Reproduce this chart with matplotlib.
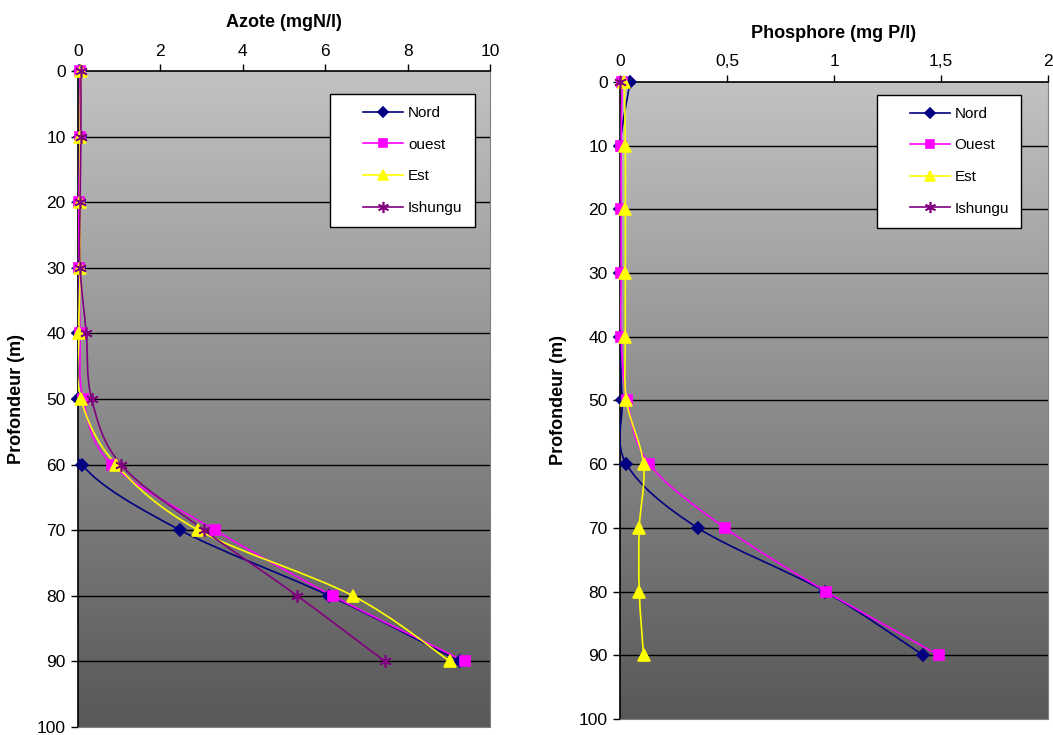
import numpy as np
import matplotlib
matplotlib.use('Agg')
import matplotlib.pyplot as plt
from matplotlib.path import Path
from matplotlib.patches import PathPatch
from matplotlib.lines import Line2D
from matplotlib.legend_handler import HandlerLine2D
from matplotlib.colors import LinearSegmentedColormap

plt.rcParams['font.family'] = ['Liberation Sans', 'DejaVu Sans']

depth = [0, 10, 20, 30, 40, 50, 60, 70, 80, 90]

azote_nord = [0.05, 0.05, 0.03, 0.03, 0.0, 0.0, 0.1, 2.48, 6.1, 9.27]
azote_ouest = [0.05, 0.05, 0.02, 0.03, 0.05, 0.12, 0.82, 3.33, 6.18, 9.39]
azote_est = [0.07, 0.05, 0.05, 0.05, 0.02, 0.07, 0.92, 2.92, 6.67, 9.03]
azote_ishungu = [0.07, 0.07, 0.05, 0.05, 0.2, 0.33, 1.04, 3.06, 5.32, 7.45]

phos_nord = [0.047, 0.0, 0.0, 0.0, 0.0, 0.01, 0.03, 0.363, 0.958, 1.417]
phos_ouest = [0.01, 0.005, 0.005, 0.005, 0.005, 0.034, 0.137, 0.49, 0.963, 1.49]
phos_est = [0.02, 0.025, 0.025, 0.025, 0.025, 0.03, 0.11, 0.09, 0.09, 0.11]
phos_ishungu = [0.0, None, None, None, None, None, None, None, None, None]

series_style = [
    ('Nord', '#000080', 'D', 6),
    ('Ouest', '#FF00FF', 's', 7),
    ('Est', '#FFFF00', '^', 8),
    ('Ishungu', '#800080', (6, 2, 0), 9),
]

bg = LinearSegmentedColormap.from_list('bg', ['#c2c2c2', '#585858'])


def smooth_line(ax, xs, ys, color):
    # excel-like smoothed line: catmull-rom as cubic bezier
    pts = [(x, y) for x, y in zip(xs, ys) if x is not None]
    if len(pts) < 2:
        return
    p = np.array(pts, dtype=float)
    n = len(p)
    verts = [p[0]]
    codes = [Path.MOVETO]
    for i in range(n - 1):
        p0 = p[i - 1] if i > 0 else p[i]
        p1 = p[i]
        p2 = p[i + 1]
        p3 = p[i + 2] if i + 2 < n else p[i + 1]
        c1 = p1 + (p2 - p0) / 6
        c2 = p2 - (p3 - p1) / 6
        verts += [c1, c2, p2]
        codes += [Path.CURVE4] * 3
    patch = PathPatch(Path(verts, codes), fill=False, edgecolor=color,
                      lw=1.2, transform=ax.transData, zorder=3)
    ax.add_patch(patch)


def make_panel(ax, title, xmax, xticks, xticklabels, data, labels, leg_anchor):
    ax.imshow(np.linspace(0, 1, 256).reshape(-1, 1), cmap=bg, aspect='auto',
              extent=(0, xmax, 100, 0), zorder=0)
    ax.set_xlim(0, xmax)
    ax.set_ylim(100, 0)
    for d in range(10, 100, 10):
        ax.axhline(d, color='black', lw=1, zorder=1)
    handles = []
    for vals, lab, (name, col, mk, ms) in zip(data, labels, series_style):
        smooth_line(ax, vals, depth, col)
        xs = [v for v in vals if v is not None]
        ys = [d for v, d in zip(vals, depth) if v is not None]
        ax.plot(xs, ys, linestyle='none', marker=mk, color=col, ms=ms,
                mec=col, mew=1.2, zorder=4, clip_on=False)
        handles.append(Line2D([], [], color=col, marker=mk, ms=ms - 1, mew=1.2, lw=1.2, label=lab))
    ax.xaxis.tick_top()
    ax.set_xticks(xticks)
    ax.set_xticklabels(xticklabels)
    ax.set_yticks(range(0, 101, 10))
    ax.tick_params(labelsize=12.5, length=5, width=1, direction='out', pad=4)
    ax.set_title(title, fontsize=13, fontweight='bold', pad=12)
    ax.set_ylabel('Profondeur (m)', fontsize=13, fontweight='bold', labelpad=8)
    ax.spines['top'].set_linewidth(1.2)
    ax.spines['left'].set_linewidth(1.2)
    ax.spines['right'].set_color('#808080')
    ax.spines['bottom'].set_color('#808080')
    leg = ax.legend(handles=handles, loc='upper left', bbox_to_anchor=leg_anchor,
                    borderaxespad=0, fontsize=11, fancybox=False, edgecolor='black',
                    framealpha=1, handlelength=3.96, labelspacing=1.15, borderpad=0.8,
                    handletextpad=0.33,
                    handler_map={Line2D: HandlerLine2D(xpad=1.36)})
    leg.get_frame().set_linewidth(1)
    leg.set_zorder(5)


fig = plt.figure(figsize=(10.53, 7.35), dpi=100)
ax1 = fig.add_axes([0.0741, 0.0109, 0.3913, 0.8925])
ax2 = fig.add_axes([0.5888, 0.0218, 0.4065, 0.8667])

make_panel(ax1, 'Azote (mgN/l)', 10, [0, 2, 4, 6, 8, 10],
           ['0', '2', '4', '6', '8', '10'],
           [azote_nord, azote_ouest, azote_est, azote_ishungu],
           ['Nord', 'ouest', 'Est', 'Ishungu'], (0.612, 0.965))
make_panel(ax2, 'Phosphore (mg P/l)', 2, [0, 0.5, 1, 1.5, 2],
           ['0', '0,5', '1', '1,5', '2'],
           [phos_nord, phos_ouest, phos_est, phos_ishungu],
           ['Nord', 'Ouest', 'Est', 'Ishungu'], (0.600, 0.980))

fig.savefig('out.png', dpi=100)
